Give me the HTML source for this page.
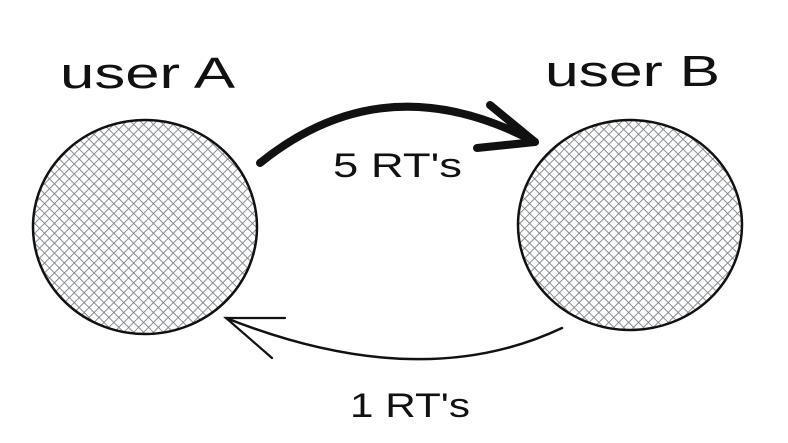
<!DOCTYPE html>
<html><head><meta charset="utf-8"><style>
html,body{margin:0;padding:0;background:#fff;}
svg{display:block;}
text{font-family:"Liberation Sans",sans-serif;fill:#111;}
</style></head><body>
<svg width="788" height="443" viewBox="0 0 788 443" xmlns="http://www.w3.org/2000/svg">
<defs>
<pattern id="h" width="7" height="7" patternUnits="userSpaceOnUse" patternTransform="rotate(45)">
<line x1="0" y1="0" x2="0" y2="7" stroke="#7d8287" stroke-width="1.8"/>
<line x1="0" y1="0" x2="7" y2="0" stroke="#7d8287" stroke-width="1.8"/>
</pattern>
</defs>
<rect width="788" height="443" fill="#fff"/>
<ellipse cx="145" cy="227" rx="112" ry="107" fill="url(#h)" stroke="#111" stroke-width="2.5"/>
<ellipse cx="630" cy="225" rx="112" ry="105" fill="url(#h)" stroke="#111" stroke-width="2.5"/>
<text x="60" y="88" font-size="44" textLength="175" lengthAdjust="spacingAndGlyphs">user A</text>
<text x="545" y="86" font-size="44" textLength="175" lengthAdjust="spacingAndGlyphs">user B</text>
<path d="M260 163 Q385 62 535 142" fill="none" stroke="#111" stroke-width="8" stroke-linecap="round"/>
<path d="M490 105 L535 142 L477 148" fill="none" stroke="#111" stroke-width="8" stroke-linecap="round" stroke-linejoin="round"/>
<text x="333" y="177" font-size="34" textLength="129" lengthAdjust="spacingAndGlyphs">5 RT's</text>
<path d="M562 328 Q420 395 226 318" fill="none" stroke="#111" stroke-width="2.5" stroke-linecap="round"/>
<path d="M285 318 L226 318 L272 358" fill="none" stroke="#111" stroke-width="2.2" stroke-linecap="round"/>
<text x="350" y="417" font-size="34" textLength="120" lengthAdjust="spacingAndGlyphs">1 RT's</text>
</svg>
</body></html>
